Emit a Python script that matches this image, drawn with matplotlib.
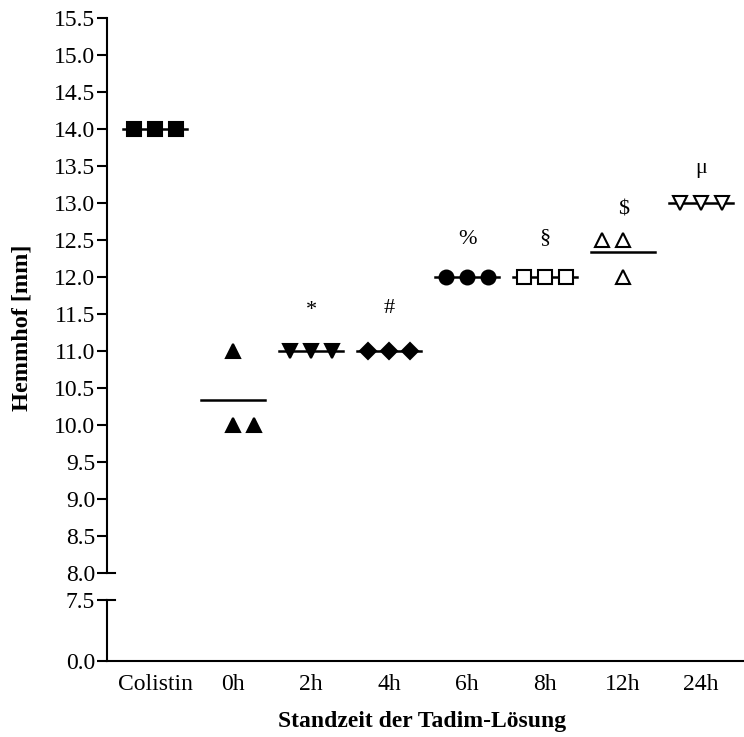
import matplotlib
matplotlib.use("Agg")
import matplotlib.pyplot as plt
import numpy as np

plt.rcParams['font.family'] = ['Liberation Serif', 'DejaVu Serif']

categories = ["Colistin", "0h", "2h", "4h", "6h", "8h", "12h", "24h"]
values = [
    [14, 14, 14],
    [11, 10, 10],
    [11, 11, 11],
    [11, 11, 11],
    [12, 12, 12],
    [12, 12, 12],
    [12.5, 12.5, 12],
    [13, 13, 13],
]
# horizontal jitter offsets (in category units) as in the original scatter
offsets = [
    [-0.27, 0.0, 0.27],
    [0.0, 0.0, 0.27],
    [-0.27, 0.0, 0.27],
    [-0.27, 0.0, 0.27],
    [-0.27, 0.0, 0.27],
    [-0.27, 0.0, 0.27],
    [-0.27, 0.0, 0.0],
    [-0.27, 0.0, 0.27],
]
annotations = ["", "", "*", "#", "%", "§", "$", "μ"]
annot_y = [None, None, 11.55, 11.58, 12.5, 12.53, 12.9, 13.47]

markers = ["s", "^", "v", "D", "o", "s", "^", "v"]
filled = [True, True, True, True, True, False, False, False]
msizes = [10, 10, 10, 8.5, 10, 9.5, 10, 10]

W, H = 744, 737
FS = 17
fig = plt.figure(figsize=(W / 100, H / 100), dpi=100)
left = 107 / W
right = 1.0
ax_top = fig.add_axes([left, 1 - 573 / H, right - left, (573 - 18) / H])
ax_bot = fig.add_axes([left, 1 - 661 / H, right - left, (661 - 600) / H])

xlim = (-0.615, 7.55)
for ax in (ax_top, ax_bot):
    ax.set_xlim(*xlim)
    for s in ("top", "right"):
        ax.spines[s].set_visible(False)
    ax.spines["left"].set_linewidth(1.5)
    ax.tick_params(axis="y", direction="out", length=7, width=1.5, labelsize=FS, pad=1.5)
    ax.set_facecolor("none")

ax_top.set_ylim(8.0, 15.5)
ax_top.set_yticks(np.arange(8.0, 15.51, 0.5))
ax_top.set_yticklabels([f"{v:.1f}" for v in np.arange(8.0, 15.51, 0.5)])
ax_top.spines["bottom"].set_visible(False)
ax_top.set_xticks([])

ax_bot.set_ylim(0, 7.5)
ax_bot.set_yticks([0.0, 7.5])
ax_bot.set_yticklabels(["0.0", "7.5"])
ax_bot.spines["bottom"].set_linewidth(1.5)
ax_bot.set_xticks(range(len(categories)))
ax_bot.set_xticklabels(categories, fontsize=FS)
ax_bot.tick_params(axis="x", length=0, pad=9)

# break caps (short stubs to the right of the spine)
cap = 8 / (W - 107)
ax_top.plot([0, cap], [0, 0], transform=ax_top.transAxes, color="black", lw=1.5, clip_on=False)
ax_bot.plot([0, cap], [1, 1], transform=ax_bot.transAxes, color="black", lw=1.5, clip_on=False)

for i, (vals, offs) in enumerate(zip(values, offsets)):
    m = np.mean(vals)
    ax_top.plot([i - 0.41, i + 0.41], [m, m], color="black", lw=1.8, zorder=2)
    xs = [i + o for o in offs]
    ax_top.plot(xs, vals, linestyle="none", marker=markers[i], markersize=msizes[i],
                markerfacecolor="black" if filled[i] else "white",
                markeredgecolor="black", markeredgewidth=1.5, zorder=3)
    if annotations[i]:
        ax_top.text(i, annot_y[i], annotations[i], ha="center", va="center", fontsize=FS - 1)

fig.text(22 / W, 1 - 328 / H, "Hemmhof [mm]", rotation=90, ha="center", va="center",
         fontsize=17.5, fontweight="bold")
fig.text(422 / W, 1 - 722 / H, "Standzeit der Tadim-Lösung", ha="center", va="center",
         fontsize=FS, fontweight="bold")

fig.savefig("out.png", dpi=100)
